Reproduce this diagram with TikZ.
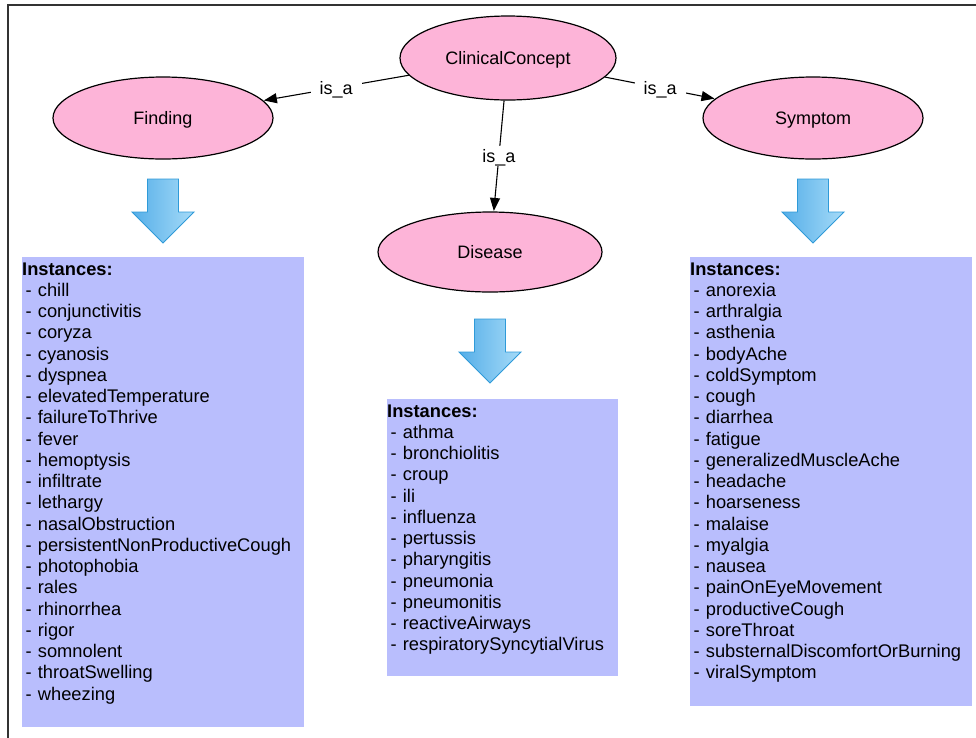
\documentclass[tikz,border=0pt]{standalone}
\usepackage{fontspec}
\setmainfont{Liberation Sans}
\usetikzlibrary{arrows.meta,shapes.geometric}
\definecolor{pinkfill}{HTML}{FDB4D8}
\definecolor{listfill}{HTML}{B9BEFD}
\definecolor{arrowdark}{HTML}{55AEE8}
\definecolor{arrowlight}{HTML}{A6DBF8}
\definecolor{arrowline}{HTML}{2F9AD8}
\newcommand{\itm}[1]{\hspace*{3.5pt}- #1}
\begin{document}
\begin{tikzpicture}[x=1pt,y=-1pt,
  concept/.style={ellipse, draw=black, line width=1.2pt, fill=pinkfill, inner sep=0pt,
    text height=12.9pt, text depth=0pt, font=\fontsize{18}{21}\selectfont},
  isa/.style={line width=1.1pt, -{Triangle[length=13pt,width=10pt]}, shorten >=0.5pt},
  lbl/.style={midway, fill=white, inner xsep=9pt, inner ysep=4pt, text height=12.9pt, text depth=0pt,
    font=\fontsize{18}{21}\selectfont},
  listbox/.style={rectangle, fill=listfill, inner sep=0pt, anchor=north west},
  listtext/.style={anchor=base west, inner sep=0pt, text width=280pt, align=left,
    font=\fontsize{18.3}{21.25}\selectfont},
  blockarrow/.style={left color=arrowdark, right color=arrowlight, draw=arrowline, line width=0.9pt, line join=miter}
]
\useasboundingbox (0,0) rectangle (976,737);
\clip (0,0) rectangle (976,737);
\draw[line width=1.3pt, black!80] (8,760) -- (8,5) -- (990,5);

% concept ellipses
\node[concept, minimum width=216pt, minimum height=84pt] (cc) at (508,58) {ClinicalConcept};
\node[concept, minimum width=220pt, minimum height=82pt] (finding) at (163,118) {Finding};
\node[concept, minimum width=220pt, minimum height=82pt] (symptom) at (813,118) {Symptom};
\node[concept, minimum width=224pt, minimum height=80pt] (disease) at (490,252) {Disease};

% is_a connectors
\draw[isa] (cc) -- node[lbl] (l1) {is\_a} (finding);
\draw[isa] (cc) -- node[lbl] (l2) {is\_a} (symptom);
\draw[isa] (cc) -- node[lbl] (l3) {is\_a} (disease);

% block arrows
\foreach \cx/\ty in {163/179, 813/179, 490/319}{
  \shade[blockarrow] (\cx-15.5,\ty) -- (\cx+15.5,\ty) -- (\cx+15.5,\ty+33) -- (\cx+31,\ty+33)
    -- (\cx,\ty+64) -- (\cx-31,\ty+33) -- (\cx-15.5,\ty+33) -- cycle;
}

% instance boxes
\node[listbox, minimum width=282pt, minimum height=470pt] (fbox) at (22,257) {};
\node[listbox, minimum width=231pt, minimum height=277pt] (dbox) at (387,399) {};
\node[listbox, minimum width=282pt, minimum height=449pt] (sbox) at (690,257) {};

\node[listtext] (ftext) at (22,275) {\textbf{Instances:}\\
\itm{chill}\\ \itm{conjunctivitis}\\ \itm{coryza}\\ \itm{cyanosis}\\ \itm{dyspnea}\\
\itm{elevatedTemperature}\\ \itm{failureToThrive}\\ \itm{fever}\\ \itm{hemoptysis}\\
\itm{infiltrate}\\ \itm{lethargy}\\ \itm{nasalObstruction}\\ \itm{persistentNonProductiveCough}\\
\itm{photophobia}\\ \itm{rales}\\ \itm{rhinorrhea}\\ \itm{rigor}\\ \itm{somnolent}\\
\itm{throatSwelling}\\ \itm{wheezing}};

\node[listtext] (dtext) at (387,417) {\textbf{Instances:}\\
\itm{athma}\\ \itm{bronchiolitis}\\ \itm{croup}\\ \itm{ili}\\ \itm{influenza}\\
\itm{pertussis}\\ \itm{pharyngitis}\\ \itm{pneumonia}\\ \itm{pneumonitis}\\
\itm{reactiveAirways}\\ \itm{respiratorySyncytialVirus}};

\node[listtext] (stext) at (690,275) {\textbf{Instances:}\\
\itm{anorexia}\\ \itm{arthralgia}\\ \itm{asthenia}\\ \itm{bodyAche}\\ \itm{coldSymptom}\\
\itm{cough}\\ \itm{diarrhea}\\ \itm{fatigue}\\ \itm{generalizedMuscleAche}\\ \itm{headache}\\
\itm{hoarseness}\\ \itm{malaise}\\ \itm{myalgia}\\ \itm{nausea}\\ \itm{painOnEyeMovement}\\
\itm{productiveCough}\\ \itm{soreThroat}\\ \itm{substernalDiscomfortOrBurning}\\ \itm{viralSymptom}};
\end{tikzpicture}
\end{document}
